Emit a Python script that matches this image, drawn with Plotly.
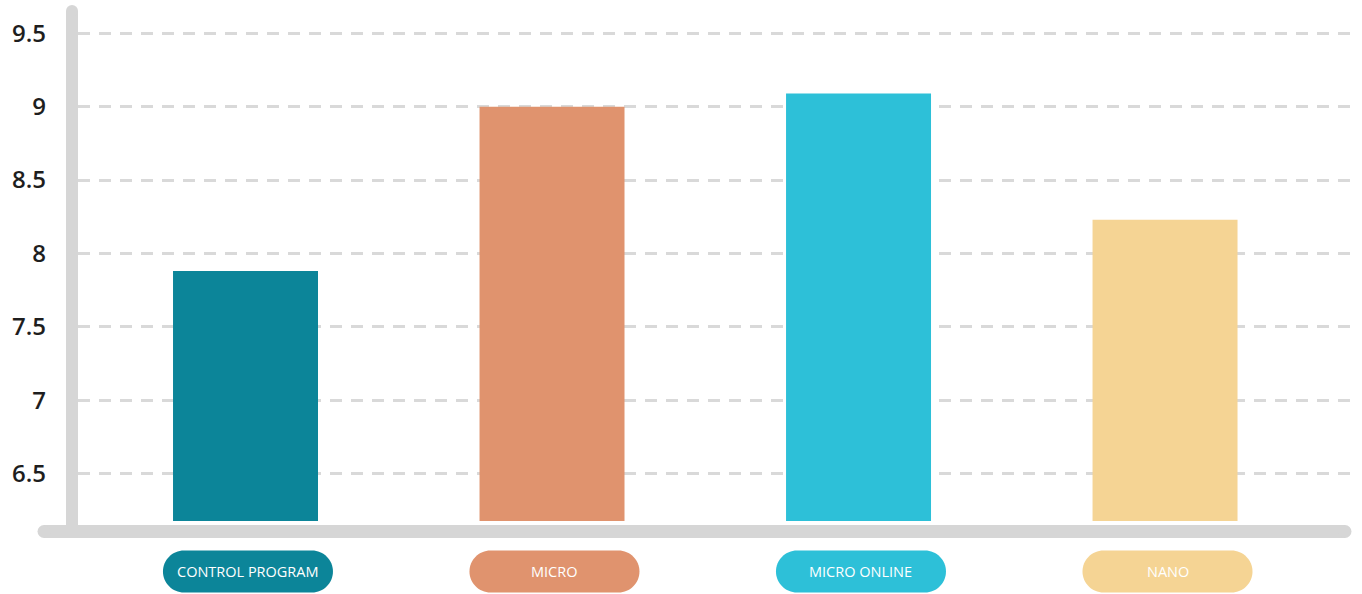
import plotly.graph_objects as go

categories = ["CONTROL PROGRAM", "MICRO", "MICRO ONLINE", "NANO"]
values = [7.88, 9.0, 9.09, 8.23]
colors = ["#0c8599", "#e0936e", "#2dc0d8", "#f5d494"]
tick_vals = [6.5, 7, 7.5, 8, 8.5, 9, 9.5]
tick_text = ["6.5", "7", "7.5", "8", "8.5", "9", "9.5"]

W, H = 1362, 594
ML, MR, MT, MB = 78, 6, 5, 73
PW = W - ML - MR
PH = H - MT - MB
AXIS_GRAY = "#d6d6d6"


def px(x):
    return (x - ML) / PW


def py(y):
    return (H - MB - y) / PH


fig = go.Figure()
fig.add_trace(go.Bar(
    x=list(range(len(categories))), y=values,
    marker=dict(color=colors, line=dict(width=0)),
    width=0.473, hoverinfo="skip", showlegend=False,
))

shapes = []
# vertical axis (rounded)
shapes.append(dict(type="rect", xref="paper", yref="paper", x0=px(66), x1=px(78),
                   y0=py(537), y1=py(11), fillcolor=AXIS_GRAY, line=dict(width=0), layer="above"))
shapes.append(dict(type="circle", xref="paper", yref="paper", x0=px(66), x1=px(78),
                   y0=py(17), y1=py(5), fillcolor=AXIS_GRAY, line=dict(width=0), layer="above"))
# horizontal axis (rounded)
shapes.append(dict(type="rect", xref="paper", yref="paper", x0=px(44), x1=px(1345),
                   y0=py(538), y1=py(525), fillcolor=AXIS_GRAY, line=dict(width=0), layer="above"))
for cx in (44, 1345):
    shapes.append(dict(type="circle", xref="paper", yref="paper", x0=px(cx - 6.5), x1=px(cx + 6.5),
                       y0=py(538), y1=py(525), fillcolor=AXIS_GRAY, line=dict(width=0), layer="above"))

pill = ("M -64,-21 L 64,-21 C 75.6,-21 85,-11.6 85,0 C 85,11.6 75.6,21 64,21 "
        "L -64,21 C -75.6,21 -85,11.6 -85,0 C -85,-11.6 -75.6,-21 -64,-21 Z")
pill_y = py(571.5)
annotations = []
for i, (cat, col) in enumerate(zip(categories, colors)):
    shapes.append(dict(type="path", xref="x", yref="paper", xsizemode="pixel", ysizemode="pixel",
                       xanchor=i + 0.008, yanchor=pill_y, path=pill, fillcolor=col,
                       line=dict(width=0), layer="above"))
    annotations.append(dict(x=i + 0.008, y=pill_y, xref="x", yref="paper", text=cat, showarrow=False,
                            xanchor="center", yanchor="middle",
                            font=dict(family="Open Sans", size=14.5, color="white")))

fig.update_layout(
    width=W, height=H,
    margin=dict(l=ML, r=MR, t=MT, b=MB),
    paper_bgcolor="white", plot_bgcolor="white",
    bargap=0.5,
    shapes=shapes, annotations=annotations,
    xaxis=dict(range=[-0.5465, 3.623], showticklabels=False, showgrid=False,
               zeroline=False, showline=False, fixedrange=True),
    yaxis=dict(range=[6.177, 9.693], tickvals=tick_vals, ticktext=tick_text,
               showgrid=True, gridcolor="#d9d9d9", gridwidth=2.5, griddash="12px,9px",
               zeroline=False, showline=False, ticks="", ticklabelstandoff=31,
               tickfont=dict(family="Open Sans", size=24, color="#1e1e1e", weight=600),
               fixedrange=True),
)

fig.write_html("out.html", config={"displayModeBar": False})
